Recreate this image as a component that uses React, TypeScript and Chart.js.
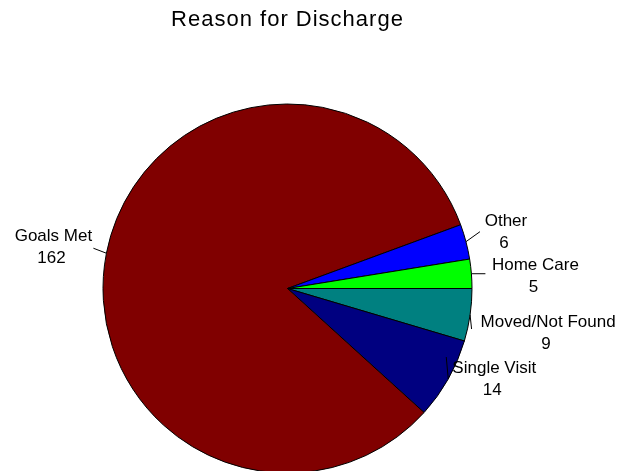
import React, { useEffect, useRef } from "react";
import { Chart, registerables } from "chart.js";

Chart.register(...registerables);

const TITLE = "Reason for Discharge";
const categories = ["Moved/Not Found", "Single Visit", "Goals Met", "Other", "Home Care"];
const values = [9, 14, 162, 6, 5];
const colors = ["#008080", "#000080", "#800000", "#0000FF", "#00FF00"];

// label anchor offsets (from slice's outer mid-point): center x, first-line baseline
const labelOffsets: [number, number][] = [
  [78, 12],
  [46, -6],
  [-53, -12],
  [40, -16],
  [64, -4],
];
// leader line end offsets (from slice's outer mid-point)
const leaderEnds: [number, number][] = [
  [1.5, 14],
  [-2, -22],
  [-13, -5],
  [14, -10],
  [14, 0],
];

const FONT = '"Liberation Sans", Arial, sans-serif';

const labelPlugin = {
  id: "sliceLabels",
  afterDraw(chart: any) {
    const ctx = chart.ctx as CanvasRenderingContext2D;
    const ca = chart.chartArea;
    ctx.save();
    ctx.fillStyle = "#000";
    ctx.textAlign = "center";
    ctx.textBaseline = "alphabetic";
    ctx.font = `22px ${FONT}`;
    (ctx as any).letterSpacing = "1px";
    ctx.fillText(TITLE, (ca.left + ca.right) / 2, 25.5);
    (ctx as any).letterSpacing = "0px";

    const meta = chart.getDatasetMeta(0);
    ctx.font = `17px ${FONT}`;
    ctx.strokeStyle = "#000";
    ctx.lineWidth = 1;
    meta.data.forEach((arc: any, i: number) => {
      const p = arc.getProps(["x", "y", "startAngle", "endAngle", "outerRadius"], true);
      const mid = (p.startAngle + p.endAngle) / 2;
      const ex = p.x + Math.cos(mid) * p.outerRadius;
      const ey = p.y + Math.sin(mid) * p.outerRadius;
      const le = leaderEnds[i];
      ctx.beginPath();
      ctx.moveTo(ex, ey);
      ctx.lineTo(ex + le[0], ey + le[1]);
      ctx.stroke();
      const lo = labelOffsets[i];
      const lx = ex + lo[0];
      const ly = ey + lo[1];
      ctx.fillText(categories[i], lx, ly);
      ctx.fillText(String(values[i]), lx - 2, ly + 22);
    });
    ctx.restore();
  },
};

export default function App() {
  const ref = useRef<HTMLCanvasElement | null>(null);
  useEffect(() => {
    if (!ref.current) return;
    const chart = new Chart(ref.current, {
      type: "pie",
      data: {
        labels: categories,
        datasets: [
          {
            data: values,
            backgroundColor: colors,
            borderColor: "#000",
            borderWidth: 1,
            hoverOffset: 0,
            offset: 0,
          },
        ],
      },
      options: {
        responsive: false,
        animation: false,
        rotation: 90,
        layout: { padding: { left: 102.5, right: 158.5, top: 103.5, bottom: 6.5 } },
        plugins: {
          legend: { display: false },
          tooltip: { enabled: false },
          title: { display: false },
        },
      },
      plugins: [labelPlugin],
    });
    return () => chart.destroy();
  }, []);
  return (
    <div
      style={{
        position: "fixed",
        left: 0,
        top: 0,
        width: 631,
        height: 471,
        overflow: "hidden",
        background: "#fff",
      }}
    >
      <canvas ref={ref} width={631} height={480} style={{ display: "block" }} />
    </div>
  );
}
